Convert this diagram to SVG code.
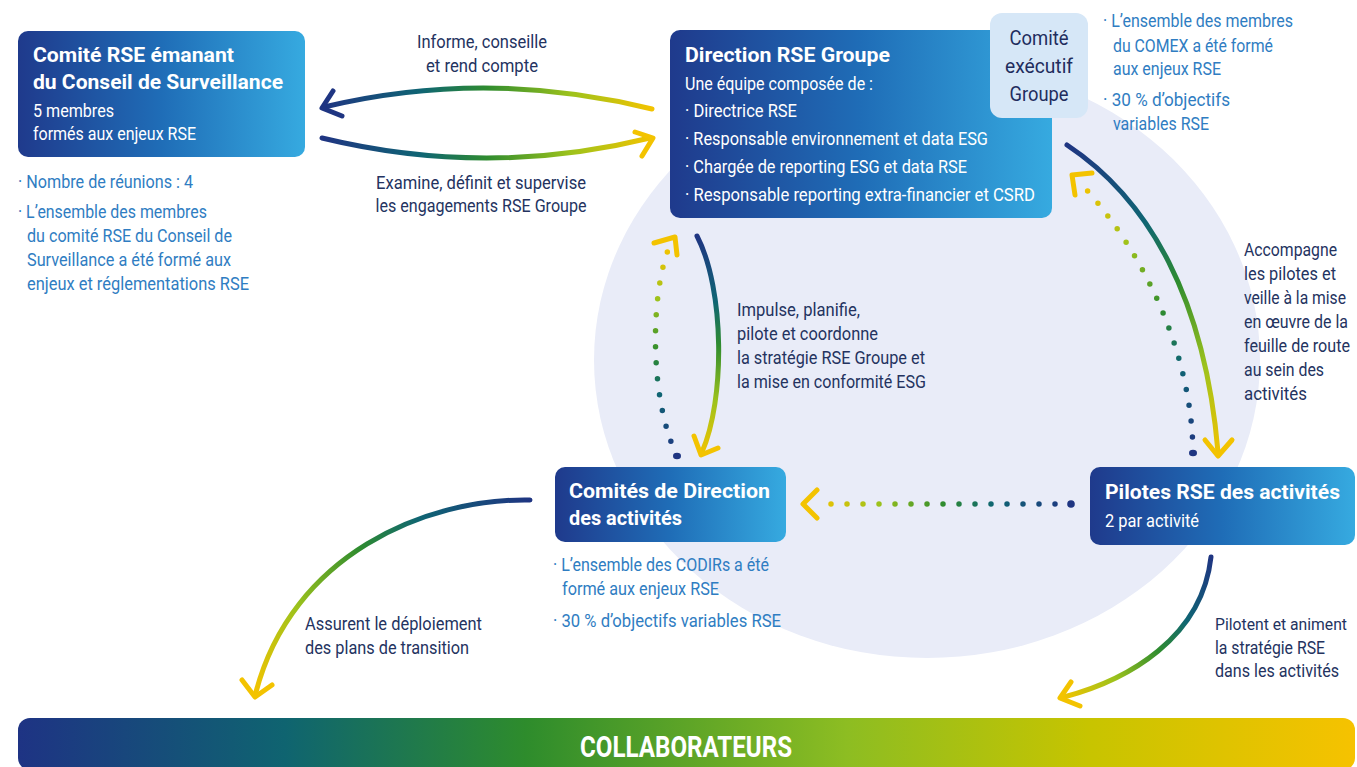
<svg xmlns="http://www.w3.org/2000/svg" width="1357" height="767" viewBox="0 0 1357 767">
  <defs>
    <style>
      text { font-family: Roboto, "Liberation Sans", sans-serif; }
      .title { font-size: 21px; font-weight: 700; fill: #ffffff; }
      .body { font-size: 18px; fill: #ffffff; }
      .note { font-size: 17.5px; fill: #2f7dc2; }
      .label { font-size: 17.5px; fill: #24335f; }
      .label.tight { font-size: 16px; }
      .comex { font-size: 20px; fill: #1f2d5e; }
      .bar { font-size: 29px; font-weight: 700; fill: #ffffff; }
      .flow { fill: none; stroke-width: 5; stroke-linecap: round; }
      .dots { fill: none; stroke-width: 5.5; stroke-linecap: round; stroke-dasharray: 0 16; }
      .head { fill: none; stroke-width: 5; stroke-linecap: round; stroke-linejoin: round; }
      .yellow { stroke: #f3c300; }
      .navy { stroke: #1f3582; }
    </style>
    <linearGradient id="boxGrad" x1="0" y1="0" x2="1" y2="0">
      <stop offset="0" stop-color="#1f3a8c"/>
      <stop offset="0.5" stop-color="#1f6db7"/>
      <stop offset="1" stop-color="#36aae0"/>
    </linearGradient>
    <linearGradient id="barGrad" x1="0" y1="0" x2="1" y2="0">
      <stop offset="0" stop-color="#1e3384"/>
      <stop offset="0.2" stop-color="#0f6470"/>
      <stop offset="0.38" stop-color="#2e8c2c"/>
      <stop offset="0.62" stop-color="#8dbd22"/>
      <stop offset="0.8" stop-color="#c7c400"/>
      <stop offset="1" stop-color="#f6c200"/>
    </linearGradient>
    <!-- navy to yellow ramp shared by all connectors -->
    <linearGradient id="ramp">
      <stop offset="0" stop-color="#1f3582"/>
      <stop offset="0.3" stop-color="#0f6573"/>
      <stop offset="0.5" stop-color="#2f8c2f"/>
      <stop offset="0.75" stop-color="#9cc21c"/>
      <stop offset="1" stop-color="#f3c300"/>
    </linearGradient>
    <linearGradient id="gA" href="#ramp" gradientUnits="userSpaceOnUse" x1="323" y1="0" x2="652" y2="0"/>
    <linearGradient id="gC" href="#ramp" gradientUnits="userSpaceOnUse" x1="0" y1="236" x2="0" y2="455"/>
    <linearGradient id="gD" href="#ramp" gradientUnits="userSpaceOnUse" x1="0" y1="456" x2="0" y2="248"/>
    <linearGradient id="gE" href="#ramp" gradientUnits="userSpaceOnUse" x1="1067" y1="145" x2="1218" y2="455"/>
    <linearGradient id="gE2" href="#ramp" gradientUnits="userSpaceOnUse" x1="1193" y1="453" x2="1084" y2="186"/>
    <linearGradient id="gF" href="#ramp" gradientUnits="userSpaceOnUse" x1="1071" y1="0" x2="815" y2="0"/>
    <linearGradient id="gG" href="#ramp" gradientUnits="userSpaceOnUse" x1="530" y1="500" x2="255" y2="693"/>
    <linearGradient id="gH" href="#ramp" gradientUnits="userSpaceOnUse" x1="1211" y1="557" x2="1062" y2="697"/>
  </defs>

  <rect width="1357" height="767" fill="#ffffff"/>

  <!-- background disc -->
  <ellipse cx="927" cy="360" rx="333" ry="298" fill="#e9ecf8"/>

  <!-- connectors -->
  <g id="connectors">
    <!-- Informe, conseille et rend compte -->
    <path class="flow" stroke="url(#gA)" d="M 652 109 Q 487 68 324 107"/>
    <polyline class="head navy" points="333,91 322,108 342,116"/>
    <!-- Examine, définit et supervise -->
    <path class="flow" stroke="url(#gA)" d="M 322 138 Q 487 178 650 138"/>
    <polyline class="head yellow" points="635,132 653,138 642,156"/>
    <!-- Direction -> Comités de Direction -->
    <path class="flow" stroke="url(#gC)" d="M 697 236 C 725 290 725 400 702 452"/>
    <polyline class="head yellow" points="694,436 701,455 718,448"/>
    <!-- Comités de Direction -> Direction (dotted) -->
    <path class="dots" stroke="url(#gD)" d="M 677 456 C 650 400 650 300 668 250"/>
    <ellipse cx="677" cy="456" rx="4" ry="3.2" fill="#1f3582"/>
    <polyline class="head yellow" points="654,243 675,237 677,255"/>
    <!-- Direction -> Pilotes -->
    <path class="flow" stroke="url(#gE)" d="M 1067 145 C 1150 200 1205 300 1218 452"/>
    <polyline class="head yellow" points="1205,440 1218,456 1232,440"/>
    <!-- Pilotes -> Direction (dotted) -->
    <path class="dots" stroke="url(#gE2)" d="M 1193 453 C 1192 360 1150 260 1084 187"/>
    <ellipse cx="1193" cy="453" rx="4" ry="3.2" fill="#1f3582"/>
    <polyline class="head yellow" points="1092,173 1072,175 1075,195"/>
    <!-- Pilotes -> Comités de Direction (dotted) -->
    <path class="dots" stroke="url(#gF)" d="M 1071 504 L 815 504"/>
    <circle cx="1071" cy="504" r="3.8" fill="#1f3582"/>
    <polyline class="head yellow" points="817,490 803,504 817,518"/>
    <!-- Comités de Direction -> Collaborateurs -->
    <path class="flow" stroke="url(#gG)" d="M 530 500 C 425 498 292 555 256 692"/>
    <polyline class="head yellow" points="242,680 255,697 272,685"/>
    <!-- Pilotes -> Collaborateurs -->
    <path class="flow" stroke="url(#gH)" d="M 1211 557 C 1202 638 1128 680 1064 697"/>
    <polyline class="head yellow" points="1071,682 1060,698 1080,706"/>
  </g>

  <!-- connector labels -->
  <g id="labels">
    <text class="label" x="482" y="48" text-anchor="middle" textLength="130" lengthAdjust="spacingAndGlyphs">Informe, conseille</text>
    <text class="label" x="482" y="72" text-anchor="middle" textLength="112" lengthAdjust="spacingAndGlyphs">et rend compte</text>
    <text class="label" x="481" y="189" text-anchor="middle" textLength="210" lengthAdjust="spacingAndGlyphs">Examine, définit et supervise</text>
    <text class="label" x="481" y="212" text-anchor="middle" textLength="211" lengthAdjust="spacingAndGlyphs">les engagements RSE Groupe</text>

    <text class="label" x="737" y="316" textLength="123" lengthAdjust="spacingAndGlyphs">Impulse, planifie,</text>
    <text class="label" x="737" y="340" textLength="141" lengthAdjust="spacingAndGlyphs">pilote et coordonne</text>
    <text class="label" x="737" y="364" textLength="188" lengthAdjust="spacingAndGlyphs">la stratégie RSE Groupe et</text>
    <text class="label" x="737" y="388" textLength="189" lengthAdjust="spacingAndGlyphs">la mise en conformité ESG</text>

    <text class="label" x="1244" y="256" textLength="93" lengthAdjust="spacingAndGlyphs">Accompagne</text>
    <text class="label" x="1244" y="280" textLength="92" lengthAdjust="spacingAndGlyphs">les pilotes et</text>
    <text class="label" x="1244" y="304" textLength="102" lengthAdjust="spacingAndGlyphs">veille à la mise</text>
    <text class="label" x="1244" y="328" textLength="104" lengthAdjust="spacingAndGlyphs">en œuvre de la</text>
    <text class="label" x="1244" y="352" textLength="106" lengthAdjust="spacingAndGlyphs">feuille de route</text>
    <text class="label" x="1244" y="376" textLength="80" lengthAdjust="spacingAndGlyphs">au sein des</text>
    <text class="label" x="1244" y="400" textLength="63" lengthAdjust="spacingAndGlyphs">activités</text>

    <text class="label" x="305" y="630" textLength="177" lengthAdjust="spacingAndGlyphs">Assurent le déploiement</text>
    <text class="label" x="305" y="654" textLength="164" lengthAdjust="spacingAndGlyphs">des plans de transition</text>

    <text class="label tight" x="1215" y="630" textLength="132" lengthAdjust="spacingAndGlyphs">Pilotent et animent</text>
    <text class="label" x="1215" y="654" textLength="110" lengthAdjust="spacingAndGlyphs">la stratégie RSE</text>
    <text class="label" x="1215" y="677" textLength="124" lengthAdjust="spacingAndGlyphs">dans les activités</text>
  </g>

  <!-- Comité RSE du Conseil de Surveillance -->
  <g id="comite-rse">
    <rect x="18" y="31" width="287" height="126" rx="10" fill="url(#boxGrad)"/>
    <text class="title" x="33" y="62" textLength="201" lengthAdjust="spacingAndGlyphs">Comité RSE émanant</text>
    <text class="title" x="33" y="89" textLength="250" lengthAdjust="spacingAndGlyphs">du Conseil de Surveillance</text>
    <text class="body" x="33" y="117" textLength="81" lengthAdjust="spacingAndGlyphs">5 membres</text>
    <text class="body" x="33" y="140" textLength="163" lengthAdjust="spacingAndGlyphs">formés aux enjeux RSE</text>
    <text class="note" x="18" y="188" textLength="175" lengthAdjust="spacingAndGlyphs">· Nombre de réunions : 4</text>
    <text class="note" x="18" y="218" textLength="189" lengthAdjust="spacingAndGlyphs">· L’ensemble des membres</text>
    <text class="note" x="27" y="242" textLength="205" lengthAdjust="spacingAndGlyphs">du comité RSE du Conseil de</text>
    <text class="note" x="27" y="266" textLength="204" lengthAdjust="spacingAndGlyphs">Surveillance a été formé aux</text>
    <text class="note" x="27" y="290" textLength="222" lengthAdjust="spacingAndGlyphs">enjeux et réglementations RSE</text>
  </g>

  <!-- Direction RSE Groupe -->
  <g id="direction-rse">
    <rect x="670" y="30" width="382" height="188" rx="10" fill="url(#boxGrad)"/>
    <text class="title" x="685" y="62" textLength="205" lengthAdjust="spacingAndGlyphs">Direction RSE Groupe</text>
    <text class="body" x="685" y="90" textLength="188" lengthAdjust="spacingAndGlyphs">Une équipe composée de :</text>
    <text class="body" x="685" y="117" textLength="112" lengthAdjust="spacingAndGlyphs">· Directrice RSE</text>
    <text class="body" x="685" y="145" textLength="303" lengthAdjust="spacingAndGlyphs">· Responsable environnement et data ESG</text>
    <text class="body" x="685" y="173" textLength="282" lengthAdjust="spacingAndGlyphs">· Chargée de reporting ESG et data RSE</text>
    <text class="body" x="685" y="201" textLength="350" lengthAdjust="spacingAndGlyphs">· Responsable reporting extra-financier et CSRD</text>
  </g>

  <!-- Comité exécutif Groupe -->
  <g id="comite-executif">
    <rect x="990" y="13" width="98" height="105" rx="12" fill="#d6e7f7"/>
    <text class="comex" x="1039" y="45" text-anchor="middle" textLength="59" lengthAdjust="spacingAndGlyphs">Comité</text>
    <text class="comex" x="1039" y="73" text-anchor="middle" textLength="68" lengthAdjust="spacingAndGlyphs">exécutif</text>
    <text class="comex" x="1039" y="101" text-anchor="middle" textLength="59" lengthAdjust="spacingAndGlyphs">Groupe</text>
    <text class="note" x="1103" y="27" textLength="190" lengthAdjust="spacingAndGlyphs">· L’ensemble des membres</text>
    <text class="note" x="1113" y="52" textLength="160" lengthAdjust="spacingAndGlyphs">du COMEX a été formé</text>
    <text class="note" x="1113" y="75" textLength="108" lengthAdjust="spacingAndGlyphs">aux enjeux RSE</text>
    <text class="note" x="1103" y="106" textLength="127" lengthAdjust="spacingAndGlyphs">· 30 % d’objectifs</text>
    <text class="note" x="1113" y="130" textLength="96" lengthAdjust="spacingAndGlyphs">variables RSE</text>
  </g>

  <!-- Comités de Direction des activités -->
  <g id="comites-direction">
    <rect x="555" y="467" width="231" height="75" rx="10" fill="url(#boxGrad)"/>
    <text class="title" x="569" y="498" textLength="201" lengthAdjust="spacingAndGlyphs">Comités de Direction</text>
    <text class="title" x="569" y="525" textLength="113" lengthAdjust="spacingAndGlyphs">des activités</text>
    <text class="note" x="553" y="571" textLength="216" lengthAdjust="spacingAndGlyphs">· L’ensemble des CODIRs a été</text>
    <text class="note" x="562" y="595" textLength="157" lengthAdjust="spacingAndGlyphs">formé aux enjeux RSE</text>
    <text class="note" x="553" y="627" textLength="228" lengthAdjust="spacingAndGlyphs">· 30 % d’objectifs variables RSE</text>
  </g>

  <!-- Pilotes RSE des activités -->
  <g id="pilotes-rse">
    <rect x="1090" y="467" width="265" height="78" rx="10" fill="url(#boxGrad)"/>
    <text class="title" x="1105" y="499" textLength="235" lengthAdjust="spacingAndGlyphs">Pilotes RSE des activités</text>
    <text class="body" x="1105" y="527" textLength="94" lengthAdjust="spacingAndGlyphs">2 par activité</text>
  </g>

  <!-- Collaborateurs -->
  <g id="collaborateurs">
    <rect x="18" y="718" width="1337" height="52" rx="12" fill="url(#barGrad)"/>
    <text class="bar" x="686" y="757" text-anchor="middle" textLength="212" lengthAdjust="spacingAndGlyphs">COLLABORATEURS</text>
  </g>
</svg>
